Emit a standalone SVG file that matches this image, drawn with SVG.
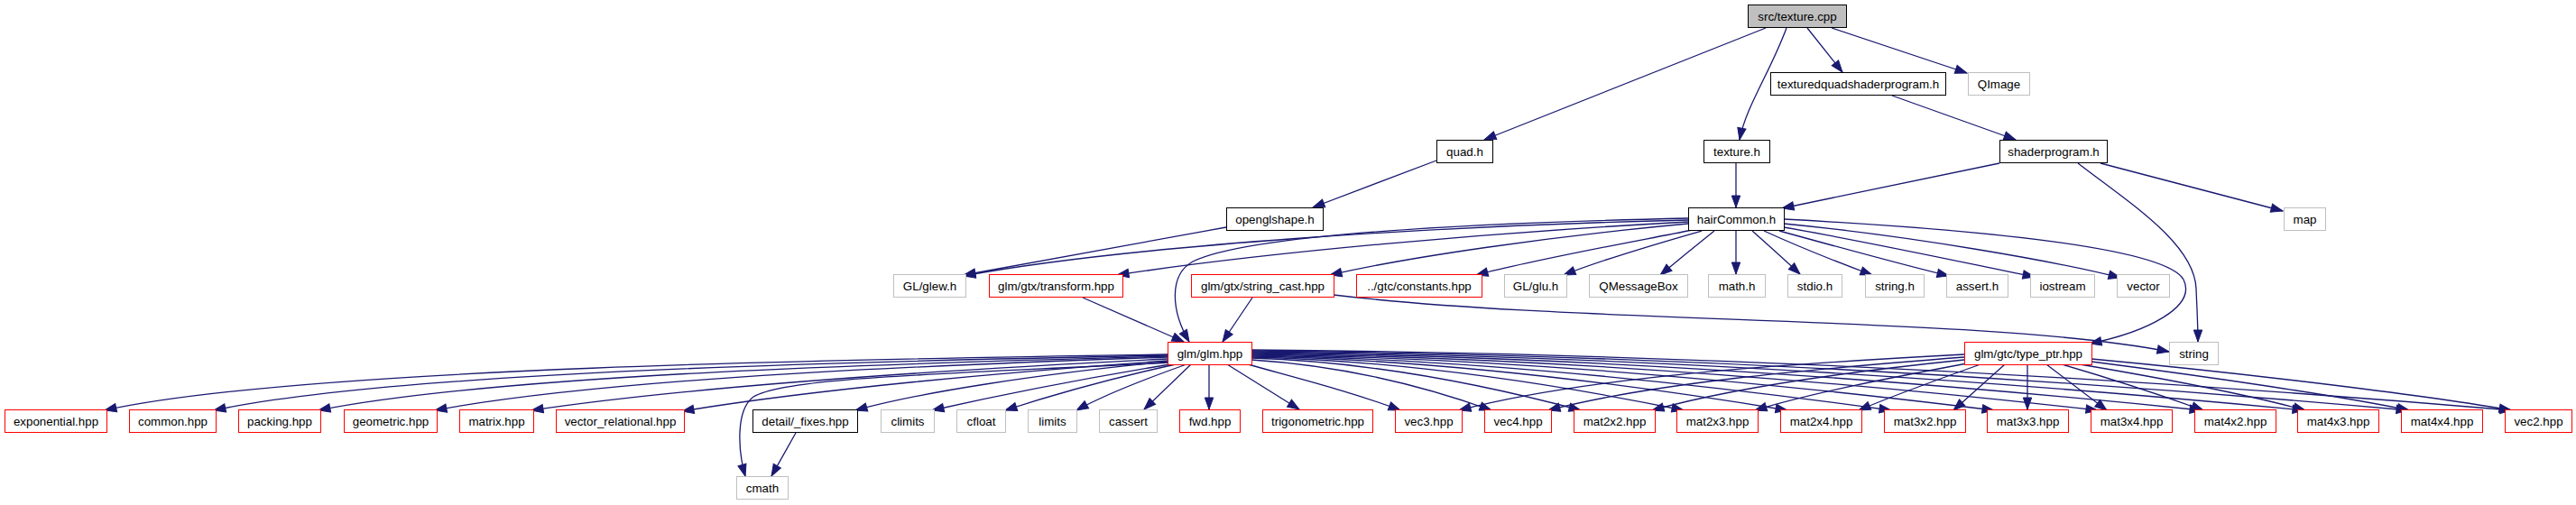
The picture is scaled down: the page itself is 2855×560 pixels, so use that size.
<svg xmlns="http://www.w3.org/2000/svg" width="2855" height="560" viewBox="0 0 2855 560">
<defs>
<style>
text{font-family:"Liberation Sans",Arial,Helvetica,sans-serif;font-size:13.33px;fill:#000;text-anchor:middle}
rect{stroke-width:1;height:25px}
.root rect{fill:#bfbfbf;stroke:#000}
.n rect{fill:#fff;stroke:#000}
.r rect{fill:#fff;stroke:#ff0000}
.g rect{fill:#fff;stroke:#bfbfbf}
#edges path{fill:none;stroke:#191970;stroke-width:1.3;marker-end:url(#arr)}
</style>
<marker id="arr" markerUnits="userSpaceOnUse" markerWidth="15" markerHeight="12" viewBox="-1 -1 15 12" refX="13" refY="5" orient="auto">
<path d="M0,0.3 L13,5 L0,9.7 z" fill="#191970" stroke="#191970" stroke-width="1"/>
</marker>
</defs>
<rect x="0" y="0" width="2855" height="560" fill="#fff" style="height:560px;stroke:none"/>
<g id="edges">
<path d="M1957,31 L1645,155"/>
<path d="M1980,31 C1962,80 1935,118 1928,155"/>
<path d="M2003,31 L2042,80"/>
<path d="M2030,31 L2180,81"/>
<path d="M2097,106 L2234,155"/>
<path d="M1592,178 L1455,230"/>
<path d="M1924,180 L1924,230"/>
<path d="M2216,181 L1975,231"/>
<path d="M2328,181 L2530,234"/>
<path d="M2303,181 C2360,225 2432,270 2434,320 C2435,345 2436,360 2436,379"/>
<path d="M1359,252 L1068,305"/>
<path d="M1871,244 C1600,250 1250,272 1068,306"/>
<path d="M1871,246 C1650,258 1400,280 1238,305"/>
<path d="M1871,242 C1600,248 1380,262 1322,290 C1295,305 1298,345 1318,379"/>
<path d="M1871,248 C1720,262 1560,285 1474,305"/>
<path d="M1876,255 C1800,270 1700,288 1636,305"/>
<path d="M1886,256 C1830,272 1770,290 1733,305"/>
<path d="M1900,256 C1880,272 1858,290 1840,305"/>
<path d="M1924,256 L1924,304"/>
<path d="M1942,256 C1960,272 1980,290 1995,304"/>
<path d="M1955,256 C1990,272 2040,292 2075,305"/>
<path d="M1972,256 C2030,272 2110,294 2160,306"/>
<path d="M1977,252 C2070,268 2190,294 2255,307"/>
<path d="M1977,248 C2120,262 2280,290 2350,308"/>
<path d="M1977,243 C2200,255 2400,275 2420,310 C2435,340 2380,368 2316,381"/>
<path d="M1200,330 L1312,379"/>
<path d="M1388,330 L1355,379"/>
<path d="M1478,327 C1750,360 2200,350 2404,390"/>
<path d="M1294,393 C950,398 330,408 116,455"/>
<path d="M1294,394 C1000,400 450,410 237,455"/>
<path d="M1294,395 C1030,402 560,414 353,455"/>
<path d="M1294,396 C1060,404 680,418 482,455"/>
<path d="M1294,398 C1090,408 790,425 589,455"/>
<path d="M1294,400 C1120,412 900,432 756,456"/>
<path d="M1296,402 C1050,415 870,418 835,440 C815,455 818,500 826,528"/>
<path d="M1294,401 C1150,415 1020,435 948,455"/>
<path d="M1297,404 C1200,420 1100,440 1033,455"/>
<path d="M1303,404 C1230,420 1160,440 1114,455"/>
<path d="M1315,404 C1270,420 1220,440 1193,455"/>
<path d="M1320,404 L1268,454"/>
<path d="M1340,404 L1340,454"/>
<path d="M1360,404 L1440,454"/>
<path d="M1383,404 C1440,420 1500,435 1552,455"/>
<path d="M1387,399 C1480,405 1570,425 1653,455"/>
<path d="M1387,397 C1515,401 1640,425 1752,455"/>
<path d="M1387,396 C1555,400 1720,425 1866,455"/>
<path d="M1387,395 C1595,399 1800,425 1981,455"/>
<path d="M1387,394 C1635,398 1880,425 2096,455"/>
<path d="M1387,393 C1675,397 1960,424 2210,455"/>
<path d="M1387,392 C1715,396 2040,423 2325,455"/>
<path d="M1387,391 C1755,395 2120,422 2440,455"/>
<path d="M1387,390 C1795,394 2200,421 2554,455"/>
<path d="M1387,389 C1835,393 2280,420 2669,455"/>
<path d="M1387,388 C1875,392 2360,419 2784,455"/>
<path d="M2177,393 C1950,405 1750,420 1617,455"/>
<path d="M2177,396 C2000,410 1830,425 1716,455"/>
<path d="M2177,399 C2050,412 1920,430 1831,455"/>
<path d="M2180,403 C2100,418 2010,435 1945,455"/>
<path d="M2195,404 C2150,420 2100,438 2060,455"/>
<path d="M2222,404 L2165,455"/>
<path d="M2247,404 L2247,454"/>
<path d="M2268,404 L2335,455"/>
<path d="M2285,404 C2340,420 2400,440 2442,455"/>
<path d="M2305,404 C2400,420 2500,440 2555,455"/>
<path d="M2318,401 C2450,418 2600,440 2670,455"/>
<path d="M2318,398 C2500,415 2700,440 2783,455"/>
<path d="M882,480 L855,528"/>
</g>
<g id="n-root" class="root"><rect x="1937.5" y="5.5" width="109"/><text x="1992" y="23">src/texture.cpp</text></g>
<g id="n-tqsp" class="n"><rect x="1962.5" y="80.5" width="194"/><text x="2059.5" y="98">texturedquadshaderprogram.h</text></g>
<g id="n-qimage" class="g"><rect x="2181.5" y="80.5" width="68"/><text x="2215.5" y="98">QImage</text></g>
<g id="n-quad" class="n"><rect x="1592.5" y="155.5" width="62"/><text x="1623.5" y="173">quad.h</text></g>
<g id="n-textureh" class="n"><rect x="1888.5" y="155.5" width="73"/><text x="1925" y="173">texture.h</text></g>
<g id="n-shaderprogram" class="n"><rect x="2216.5" y="155.5" width="119"/><text x="2276" y="173">shaderprogram.h</text></g>
<g id="n-openglshape" class="n"><rect x="1359.5" y="230.5" width="107"/><text x="1413" y="248">openglshape.h</text></g>
<g id="n-haircommon" class="n"><rect x="1871.5" y="230.5" width="106"/><text x="1924.5" y="248">hairCommon.h</text></g>
<g id="n-map" class="g"><rect x="2531.5" y="230.5" width="46"/><text x="2554.5" y="248">map</text></g>
<g id="n-glew" class="g"><rect x="990.5" y="304.5" width="80"/><text x="1030.5" y="322">GL/glew.h</text></g>
<g id="n-transform" class="r"><rect x="1096.5" y="304.5" width="148"/><text x="1170.5" y="322">glm/gtx/transform.hpp</text></g>
<g id="n-stringcast" class="r"><rect x="1320.5" y="304.5" width="158"/><text x="1399.5" y="322">glm/gtx/string_cast.hpp</text></g>
<g id="n-constants" class="r"><rect x="1503.5" y="304.5" width="139"/><text x="1573" y="322">../gtc/constants.hpp</text></g>
<g id="n-glu" class="g"><rect x="1667.5" y="304.5" width="69"/><text x="1702" y="322">GL/glu.h</text></g>
<g id="n-qmessagebox" class="g"><rect x="1761.5" y="304.5" width="109"/><text x="1816" y="322">QMessageBox</text></g>
<g id="n-math" class="g"><rect x="1893.5" y="304.5" width="63"/><text x="1925" y="322">math.h</text></g>
<g id="n-stdio" class="g"><rect x="1981.5" y="304.5" width="60"/><text x="2011.5" y="322">stdio.h</text></g>
<g id="n-stringh" class="g"><rect x="2067.5" y="304.5" width="65"/><text x="2100" y="322">string.h</text></g>
<g id="n-assert" class="g"><rect x="2157.5" y="304.5" width="68"/><text x="2191.5" y="322">assert.h</text></g>
<g id="n-iostream" class="g"><rect x="2250.5" y="304.5" width="71"/><text x="2286" y="322">iostream</text></g>
<g id="n-vector" class="g"><rect x="2346.5" y="304.5" width="58"/><text x="2375.5" y="322">vector</text></g>
<g id="n-glm" class="r"><rect x="1294.5" y="379.5" width="93"/><text x="1341" y="397">glm/glm.hpp</text></g>
<g id="n-typeptr" class="r"><rect x="2177.5" y="379.5" width="141"/><text x="2248" y="397">glm/gtc/type_ptr.hpp</text></g>
<g id="n-string" class="g"><rect x="2404.5" y="379.5" width="54"/><text x="2431.5" y="397">string</text></g>
<g id="n-exponential" class="r"><rect x="5.5" y="454.5" width="113"/><text x="62" y="472">exponential.hpp</text></g>
<g id="n-common" class="r"><rect x="143.5" y="454.5" width="96"/><text x="191.5" y="472">common.hpp</text></g>
<g id="n-packing" class="r"><rect x="264.5" y="454.5" width="91"/><text x="310" y="472">packing.hpp</text></g>
<g id="n-geometric" class="r"><rect x="381.5" y="454.5" width="103"/><text x="433" y="472">geometric.hpp</text></g>
<g id="n-matrix" class="r"><rect x="509.5" y="454.5" width="82"/><text x="550.5" y="472">matrix.hpp</text></g>
<g id="n-vecrel" class="r"><rect x="616.5" y="454.5" width="142"/><text x="687.5" y="472">vector_relational.hpp</text></g>
<g id="n-fixes" class="n"><rect x="834.5" y="454.5" width="116"/><text x="892.5" y="472">detail/_fixes.hpp</text></g>
<g id="n-climits" class="g"><rect x="976.5" y="454.5" width="59"/><text x="1006" y="472">climits</text></g>
<g id="n-cfloat" class="g"><rect x="1060.5" y="454.5" width="54"/><text x="1087.5" y="472">cfloat</text></g>
<g id="n-limits" class="g"><rect x="1139.5" y="454.5" width="54"/><text x="1166.5" y="472">limits</text></g>
<g id="n-cassert" class="g"><rect x="1218.5" y="454.5" width="64"/><text x="1250.5" y="472">cassert</text></g>
<g id="n-fwd" class="r"><rect x="1307.5" y="454.5" width="67"/><text x="1341" y="472">fwd.hpp</text></g>
<g id="n-trig" class="r"><rect x="1399.5" y="454.5" width="122"/><text x="1460.5" y="472">trigonometric.hpp</text></g>
<g id="n-vec3" class="r"><rect x="1546.5" y="454.5" width="74"/><text x="1583.5" y="472">vec3.hpp</text></g>
<g id="n-vec4" class="r"><rect x="1645.5" y="454.5" width="74"/><text x="1682.5" y="472">vec4.hpp</text></g>
<g id="n-mat2x2" class="r"><rect x="1744.5" y="454.5" width="90"/><text x="1789.5" y="472">mat2x2.hpp</text></g>
<g id="n-mat2x3" class="r"><rect x="1858.5" y="454.5" width="90"/><text x="1903.5" y="472">mat2x3.hpp</text></g>
<g id="n-mat2x4" class="r"><rect x="1973.5" y="454.5" width="90"/><text x="2018.5" y="472">mat2x4.hpp</text></g>
<g id="n-mat3x2" class="r"><rect x="2088.5" y="454.5" width="90"/><text x="2133.5" y="472">mat3x2.hpp</text></g>
<g id="n-mat3x3" class="r"><rect x="2202.5" y="454.5" width="90"/><text x="2247.5" y="472">mat3x3.hpp</text></g>
<g id="n-mat3x4" class="r"><rect x="2317.5" y="454.5" width="90"/><text x="2362.5" y="472">mat3x4.hpp</text></g>
<g id="n-mat4x2" class="r"><rect x="2432.5" y="454.5" width="90"/><text x="2477.5" y="472">mat4x2.hpp</text></g>
<g id="n-mat4x3" class="r"><rect x="2546.5" y="454.5" width="90"/><text x="2591.5" y="472">mat4x3.hpp</text></g>
<g id="n-mat4x4" class="r"><rect x="2661.5" y="454.5" width="90"/><text x="2706.5" y="472">mat4x4.hpp</text></g>
<g id="n-vec2" class="r"><rect x="2776.5" y="454.5" width="74"/><text x="2813.5" y="472">vec2.hpp</text></g>
<g id="n-cmath" class="g"><rect x="816.5" y="528.5" width="57"/><text x="845" y="546">cmath</text></g>
</svg>
